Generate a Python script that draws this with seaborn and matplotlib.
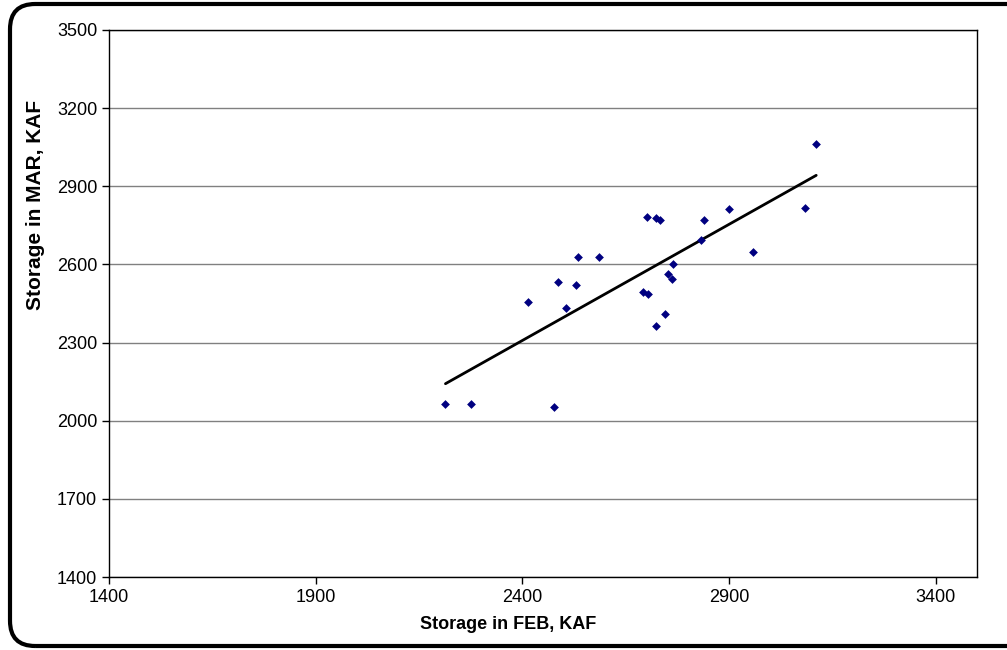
import numpy as np
import pandas as pd
import matplotlib
matplotlib.use('Agg')
import matplotlib.pyplot as plt
import seaborn as sns
from matplotlib.patches import FancyBboxPatch

# storage values (KAF)
feb = [3111, 3084, 2900, 2840, 2832, 2958, 2701, 2723, 2733, 2765, 2753, 2761,
       2692, 2704, 2746, 2723, 2534, 2585, 2487, 2530, 2413, 2506, 2214, 2277, 2477]
mar = [3062, 2818, 2812, 2772, 2693, 2649, 2784, 2779, 2772, 2600, 2565, 2543,
       2495, 2487, 2410, 2365, 2629, 2629, 2532, 2520, 2454, 2432, 2063, 2066, 2054]
xticks = [1400, 1900, 2400, 2900, 3400]
yticks = [1400, 1700, 2000, 2300, 2600, 2900, 3200, 3500]

df = pd.DataFrame({'FEB': feb, 'MAR': mar})

sns.set_style('white')
plt.rcParams['font.family'] = ['Liberation Sans', 'DejaVu Sans']
plt.rcParams['text.color'] = 'black'
plt.rcParams['axes.labelcolor'] = 'black'
plt.rcParams['xtick.color'] = 'black'
plt.rcParams['ytick.color'] = 'black'

fig = plt.figure(figsize=(10.07, 6.5), dpi=100)
ax = fig.add_axes([109 / 1007, 1 - 577 / 650, (977 - 109) / 1007, (577 - 30) / 650])

# linha de tendencia + pontos
sns.regplot(x='FEB', y='MAR', data=df, ax=ax, ci=None, marker='D',
            scatter_kws={'s': 20, 'color': '#000080', 'alpha': 1, 'linewidths': 0, 'zorder': 3},
            line_kws={'color': 'black', 'lw': 2, 'zorder': 2})

ax.set_xlim(1400, 3500)
ax.set_ylim(1400, 3500)
ax.set_xticks(xticks)
ax.set_yticks(yticks)
ax.grid(axis='y', color='#808080', lw=1)
ax.set_axisbelow(True)
for s in ax.spines.values():
    s.set_color('black')
    s.set_linewidth(1)
ax.tick_params(axis='both', direction='out', length=5, width=1, color='black',
               labelsize=13, bottom=True, left=True)
ax.set_xlabel('Storage in FEB, KAF', fontsize=13, fontweight='bold', va='center')
ax.set_ylabel('Storage in MAR, KAF', fontsize=15, fontweight='bold', va='center')
ax.xaxis.set_label_coords(0.4597, -0.087)
ax.yaxis.set_label_coords(-0.085, 0.68)

# moldura arredondada
frame = FancyBboxPatch((10 / 1007, 4 / 650), 1.2, 1 - 8 / 650,
                       boxstyle='round,pad=0,rounding_size=0.025',
                       transform=fig.transFigure, fill=False, lw=3, ec='black',
                       mutation_aspect=1007 / 650)
fig.patches.append(frame)

fig.savefig('out.png', dpi=100)
